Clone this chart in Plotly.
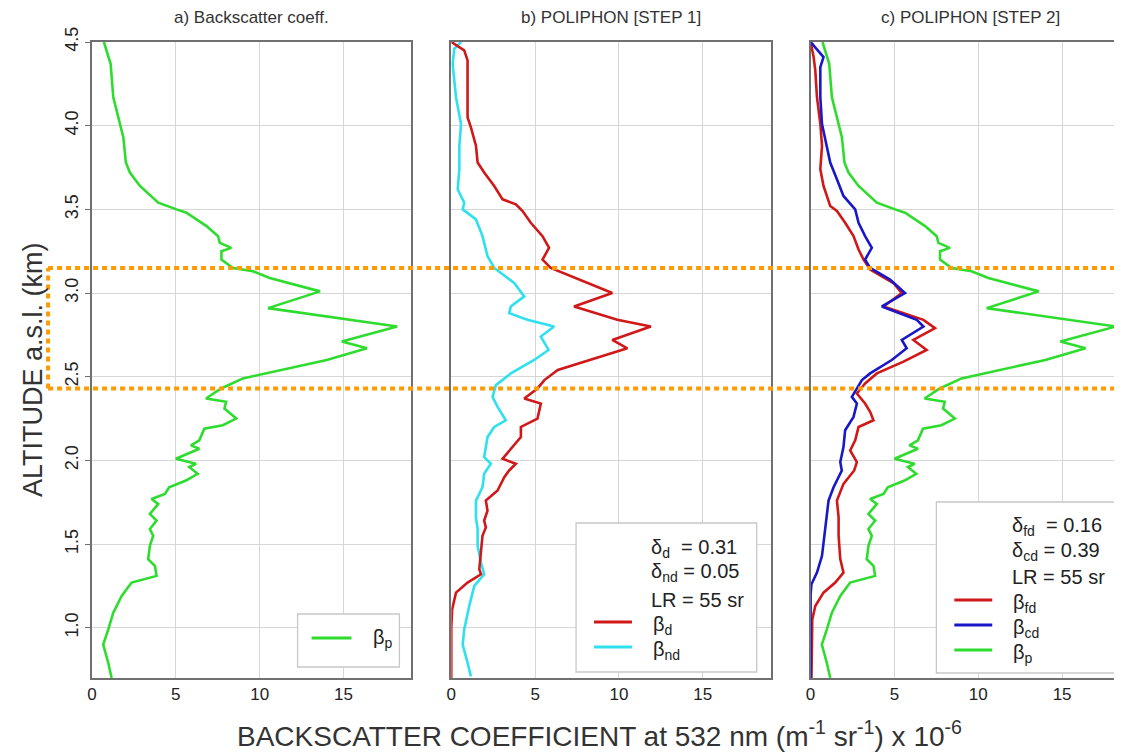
import plotly.graph_objects as go

# ---------------- data ----------------
# beta_p : particle backscatter (panels a and c)
BP_ALT = [4.50, 4.37, 4.17, 4.01, 3.93, 3.78, 3.72, 3.64, 3.54, 3.50, 3.48, 3.40, 3.34, 3.30,
          3.27, 3.25, 3.20, 3.15, 3.13, 3.09, 3.01, 2.91, 2.80, 2.71, 2.67, 2.60, 2.52, 2.49,
          2.43, 2.37, 2.35, 2.31, 2.25, 2.21, 2.19, 2.12, 2.09, 2.07, 2.01, 1.98, 1.96, 1.92,
          1.88, 1.84, 1.80, 1.77, 1.74, 1.68, 1.64, 1.59, 1.55, 1.49, 1.41, 1.37, 1.31, 1.27,
          1.19, 1.09, 0.99, 0.90, 0.79, 0.70]
BP_VAL = [0.71, 1.11, 1.27, 1.67, 1.87, 2.02, 2.26, 2.86, 3.95, 5.04, 5.63, 6.83, 7.52, 7.62,
          8.31, 7.72, 7.72, 8.41, 9.6, 10.6, 13.6, 10.5, 18.2, 14.9, 16.4, 14.0, 10.3, 9.0,
          7.7, 6.8, 8.0, 7.9, 8.6, 7.8, 6.7, 6.4, 5.9, 6.4, 5.0, 6.2, 5.8, 6.3,
          5.6, 4.6, 4.35, 3.55, 3.95, 3.45, 3.85, 3.45, 3.65, 3.45, 3.35, 3.75, 3.85, 2.36,
          1.77, 1.27, 0.97, 0.67, 0.97, 1.17]

# beta_d : dust (panel b)
BD_ALT = [4.50, 4.45, 4.39, 4.27, 4.17, 4.05, 3.99, 3.88, 3.78, 3.72, 3.64, 3.56, 3.53, 3.49,
          3.42, 3.34, 3.27, 3.20, 3.15, 3.10, 3.00, 2.92, 2.84, 2.80, 2.72, 2.67, 2.62, 2.54,
          2.48, 2.43, 2.37, 2.34, 2.25, 2.20, 2.14, 2.08, 2.01, 1.98, 1.94, 1.90, 1.82, 1.76,
          1.70, 1.64, 1.60, 1.55, 1.43, 1.35, 1.32, 1.27, 1.21, 1.11, 1.00, 0.70]
BD_VAL = [0.0, 0.77, 0.97, 0.97, 0.97, 0.97, 1.17, 1.47, 1.57, 1.96, 2.56, 3.06, 3.85, 4.25,
          4.74, 5.44, 5.83, 5.44, 5.93, 7.13, 9.6, 7.32, 9.9, 11.9, 9.6, 10.5, 8.93, 6.35,
          5.55, 5.14, 4.35, 5.34, 5.14, 4.15, 4.15, 3.65, 3.06, 3.85, 3.45, 3.16, 2.76, 2.06,
          2.16, 1.96, 2.06, 1.86, 1.77, 1.67, 1.77, 0.97, 0.28, 0.05, 0.0, 0.0]

# beta_nd : non-dust (panel b)
BND_ALT = [4.50, 4.46, 4.37, 4.17, 4.01, 3.88, 3.74, 3.62, 3.54, 3.50, 3.44, 3.34, 3.22, 3.15,
           3.06, 2.98, 2.92, 2.88, 2.84, 2.80, 2.74, 2.66, 2.60, 2.52, 2.45, 2.38, 2.32, 2.24,
           2.20, 2.14, 2.02, 1.98, 1.92, 1.84, 1.76, 1.66, 1.59, 1.49, 1.39, 1.32, 1.25, 1.13,
           0.99, 0.90, 0.79, 0.71]
BND_VAL = [0.58, 0.18, 0.08, 0.28, 0.58, 0.48, 0.48, 0.38, 0.77, 0.68, 1.47, 1.86, 2.16, 2.56,
           3.75, 4.35, 3.55, 3.45, 4.54, 6.13, 5.34, 5.8, 4.94, 3.55, 2.66, 2.46, 2.76, 3.25,
           2.56, 2.16, 1.96, 2.36, 1.96, 1.86, 1.47, 1.47, 1.57, 1.57, 1.77, 1.96, 1.37, 1.07,
           0.77, 0.68, 0.97, 1.17]

# beta_fd : fine dust (panel c)
BFD_ALT = [4.50, 4.41, 4.33, 4.17, 4.01, 3.88, 3.74, 3.64, 3.52, 3.49, 3.42, 3.34, 3.26, 3.20,
           3.14, 3.06, 3.00, 2.92, 2.84, 2.79, 2.72, 2.66, 2.59, 2.52, 2.46, 2.40, 2.34, 2.29,
           2.24, 2.20, 2.12, 2.06, 1.99, 1.94, 1.86, 1.76, 1.66, 1.55, 1.41, 1.33, 1.27, 1.21,
           1.13, 1.05, 0.70]
BFD_VAL = [0.0, 0.18, 0.28, 0.38, 0.58, 0.68, 0.58, 0.77, 1.17, 1.57, 2.06, 2.56, 2.86, 3.16,
           3.55, 4.94, 5.44, 4.35, 6.73, 7.42, 6.13, 6.92, 5.54, 3.95, 3.25, 2.76, 3.25, 3.55,
           3.75, 2.86, 2.66, 2.36, 2.76, 2.6, 1.96, 1.57, 1.67, 1.67, 1.77, 1.96, 1.47, 0.77,
           0.28, 0.1, 0.05]

# beta_cd : coarse dust (panel c)
BCD_ALT = [4.50, 4.41, 4.35, 4.17, 4.01, 3.88, 3.78, 3.68, 3.58, 3.50, 3.42, 3.34, 3.27, 3.20,
           3.15, 3.08, 3.00, 2.92, 2.84, 2.80, 2.72, 2.67, 2.60, 2.52, 2.48, 2.38, 2.34, 2.26,
           2.18, 2.08, 1.99, 1.94, 1.84, 1.76, 1.59, 1.43, 1.33, 1.26, 1.20, 0.70]
BCD_VAL = [0.0, 0.77, 0.58, 0.58, 0.68, 0.97, 1.17, 1.57, 1.96, 2.66, 2.86, 3.25, 3.65, 3.25,
           3.55, 4.74, 5.63, 4.25, 6.33, 6.73, 5.44, 5.73, 4.84, 3.55, 3.06, 2.46, 2.76, 2.56,
           2.06, 1.96, 1.77, 1.86, 1.37, 1.07, 0.87, 0.68, 0.38, 0.05, 0.0, 0.0]

X_TICKS = [0, 5, 10, 15]
Y_TICKS = [1.0, 1.5, 2.0, 2.5, 3.0, 3.5, 4.0, 4.5]
LAYER_TOP_KM = 3.15
LAYER_BOTTOM_KM = 2.43

TITLES = ["a) Backscatter coeff.", "b) POLIPHON [STEP 1]", "c) POLIPHON [STEP 2]"]
Y_TITLE = "ALTITUDE a.s.l. (km)"
X_TITLE = "BACKSCATTER COEFFICIENT at 532 nm (m<sup>-1</sup> sr<sup>-1</sup>) x 10<sup>-6</sup>"

# ---------------- styling ----------------
GREEN = "#2edc2e"
RED = "#d01818"
CYAN = "#2fe0ee"
BLUE = "#1818c8"
ORANGE = "#ff9a00"
FONT = "Liberation Sans, Arial, sans-serif"

# the page body adds an 8 px margin, so the figure is 8 px smaller and shifted
W, H = 1114, 746
ML, MR, MT, MB = 84, 0, 34, 76
PW = W - ML - MR        # 1030
PH = H - MT - MB        # 636
PX_PER_UNIT = 16.8
PLOT_LEFT, PLOT_BOTTOM = 92, 678   # page pixels of the plot area corner


def fx(px):
    return (px - PLOT_LEFT) / PW


def fy(py):
    return (PLOT_BOTTOM - py) / PH


panels = [(92, 412), (452, 772), (812, 1122)]

fig = go.Figure()
LW = 2.6
fig.add_trace(go.Scatter(x=BP_VAL, y=BP_ALT, mode="lines", line=dict(color=GREEN, width=LW),
                         xaxis="x", yaxis="y", showlegend=False))
fig.add_trace(go.Scatter(x=BND_VAL, y=BND_ALT, mode="lines", line=dict(color=CYAN, width=LW),
                         xaxis="x2", yaxis="y2", showlegend=False))
fig.add_trace(go.Scatter(x=BD_VAL, y=BD_ALT, mode="lines", line=dict(color=RED, width=LW),
                         xaxis="x2", yaxis="y2", showlegend=False))
fig.add_trace(go.Scatter(x=BP_VAL, y=BP_ALT, mode="lines", line=dict(color=GREEN, width=LW),
                         xaxis="x3", yaxis="y3", showlegend=False))
fig.add_trace(go.Scatter(x=BFD_VAL, y=BFD_ALT, mode="lines", line=dict(color=RED, width=LW),
                         xaxis="x3", yaxis="y3", showlegend=False))
fig.add_trace(go.Scatter(x=BCD_VAL, y=BCD_ALT, mode="lines", line=dict(color=BLUE, width=LW),
                         xaxis="x3", yaxis="y3", showlegend=False))

axis_common = dict(showline=True, linecolor="#707070", linewidth=1.5, mirror=True,
                   showgrid=True, gridcolor="#d6d6d6", gridwidth=1.3, zeroline=False,
                   tickfont=dict(family=FONT, size=17, color="#222"))

layout = dict(width=W, height=H, margin=dict(l=ML, r=MR, t=MT, b=MB, pad=0),
              paper_bgcolor="white", plot_bgcolor="white", showlegend=False,
              font=dict(family=FONT, color="#222"))

for i, (p0, p1) in enumerate(panels):
    sx = "" if i == 0 else str(i + 1)
    rng = (p1 - p0) / PX_PER_UNIT
    layout["xaxis" + sx] = dict(axis_common, domain=[fx(p0), min(fx(p1), 1.0)], range=[0, rng],
                                tickvals=X_TICKS, ticks="", anchor="y" + sx)
    yax = dict(axis_common, domain=[0, 1], range=[0.7, 4.5], tickvals=Y_TICKS,
               anchor="x" + sx, showticklabels=(i == 0))
    if i == 0:
        yax.update(tickangle=-90, tickformat=".1f", ticks="outside", ticklen=5,
                   tickcolor="#707070", tickfont=dict(family=FONT, size=18, color="#222"))
    else:
        yax.update(matches="y", ticks="")
    layout["yaxis" + sx] = yax

fig.update_layout(**layout)

# subplot titles
title_centers = [252, 612, 972]
for cx, t in zip(title_centers, TITLES):
    fig.add_annotation(text=t, xref="paper", yref="paper", x=fx(cx), y=fy(17),
                       showarrow=False, xanchor="center", yanchor="middle",
                       font=dict(family=FONT, size=17, color="#333"))

# axis titles
fig.add_annotation(text=Y_TITLE, xref="paper", yref="paper", x=fx(33), y=fy(370),
                   textangle=-90, showarrow=False, xanchor="center", yanchor="middle",
                   font=dict(family=FONT, size=27, color="#333"))
fig.add_annotation(text=X_TITLE, xref="paper", yref="paper", x=fx(600), y=fy(734),
                   showarrow=False, xanchor="center", yanchor="middle",
                   font=dict(family=FONT, size=28, color="#333"))

# orange dotted layer box
oline = dict(color=ORANGE, width=4, dash="5px,4px")
fig.add_shape(type="line", xref="paper", yref="y", x0=fx(48), x1=1.0,
              y0=LAYER_TOP_KM, y1=LAYER_TOP_KM, line=oline, layer="above")
fig.add_shape(type="line", xref="paper", yref="y", x0=fx(48), x1=1.0,
              y0=LAYER_BOTTOM_KM, y1=LAYER_BOTTOM_KM, line=oline, layer="above")
fig.add_shape(type="line", xref="paper", yref="y", x0=fx(48), x1=fx(48),
              y0=LAYER_BOTTOM_KM, y1=LAYER_TOP_KM, line=oline, layer="above")

# legend boxes
boxes = [(298, 400, 614, 667), (577, 758, 523, 672), (938, 1118, 502, 673)]
for x0, x1, y0, y1 in boxes:
    fig.add_shape(type="rect", xref="paper", yref="paper", x0=fx(x0), x1=fx(x1),
                  y0=fy(y1), y1=fy(y0), line=dict(color="#c8c8c8", width=1.3),
                  fillcolor="white", layer="above")

NB = "\u00a0"
LEG_FONT = dict(family=FONT, size=20, color="#222")


def legend_text(text, x, y):
    fig.add_annotation(text=text, xref="paper", yref="paper", x=fx(x), y=fy(y),
                       showarrow=False, xanchor="left", yanchor="middle", font=LEG_FONT)


def legend_line(color, x0, x1, y):
    fig.add_shape(type="line", xref="paper", yref="paper", x0=fx(x0), x1=fx(x1),
                  y0=fy(y), y1=fy(y), line=dict(color=color, width=3), layer="above")


# panel a legend
legend_line(GREEN, 312, 352, 638)
legend_text("β<sub>p</sub>", 372, 638)

# panel b legend
legend_text("δ<sub>d</sub>" + NB * 2 + "= 0.31", 650, 548)
legend_text("δ<sub>nd</sub> = 0.05", 650, 572)
legend_text("LR = 55 sr", 650, 600)
legend_line(RED, 595, 633, 622)
legend_text("β<sub>d</sub>", 652, 625)
legend_line(CYAN, 595, 633, 647)
legend_text("β<sub>nd</sub>", 652, 650)

# panel c legend
legend_text("δ<sub>fd</sub>" + NB * 2 + "= 0.16", 1012, 526)
legend_text("δ<sub>cd</sub> = 0.39", 1012, 551)
legend_text("LR = 55 sr", 1012, 577)
legend_line(RED, 956, 994, 600)
legend_text("β<sub>fd</sub>", 1013, 603)
legend_line(BLUE, 956, 994, 625)
legend_text("β<sub>cd</sub>", 1013, 628)
legend_line(GREEN, 956, 994, 650)
legend_text("β<sub>p</sub>", 1013, 653)

fig.write_html("out.html")
